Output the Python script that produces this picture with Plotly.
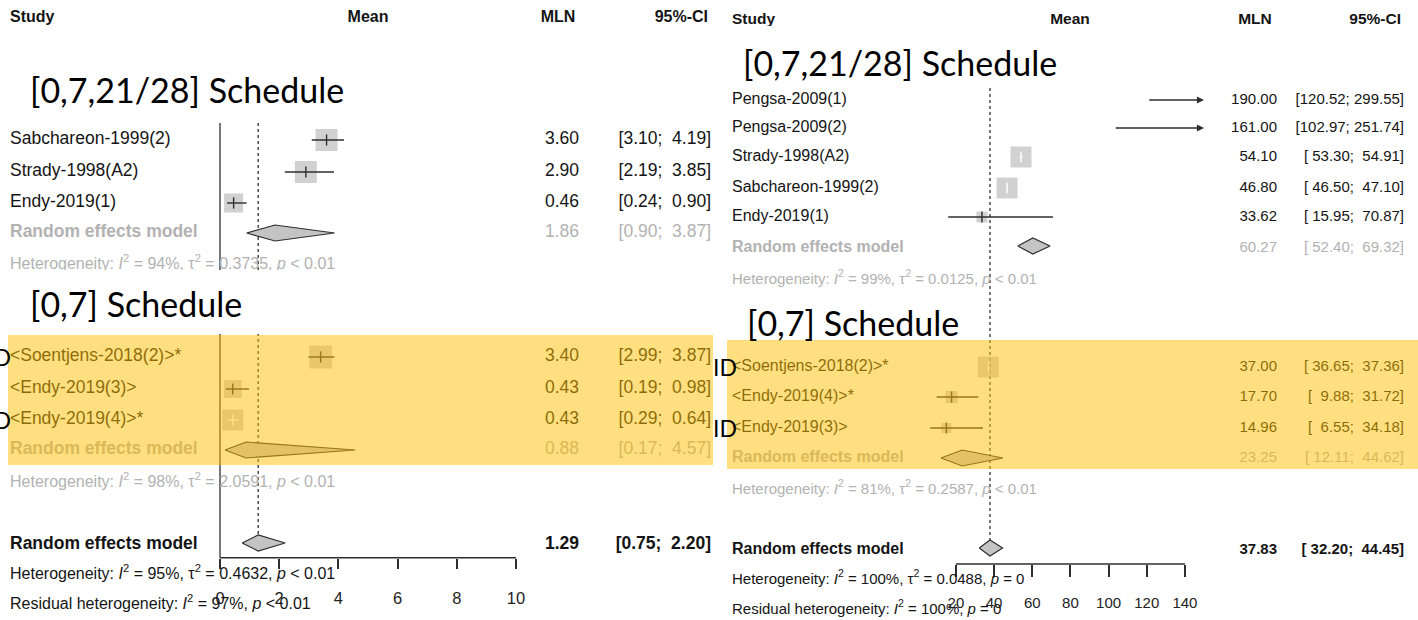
import plotly.graph_objects as go

W, H = 1418, 620

# ---------------- data ----------------
# Left panel: mean (MLN) by schedule
L_SUB1_STUDY = ["Sabchareon-1999(2)", "Strady-1998(A2)", "Endy-2019(1)"]
L_SUB1_MEAN = [3.60, 2.90, 0.46]
L_SUB1_LO = [3.10, 2.19, 0.24]
L_SUB1_HI = [4.19, 3.85, 0.90]
L_SUB1_RE = [1.86, 0.90, 3.87]
L_SUB1_HET = ["94%", "0.3735", "< 0.01"]

L_SUB2_STUDY = ["<Soentjens-2018(2)>*", "<Endy-2019(3)>", "<Endy-2019(4)>*"]
L_SUB2_MEAN = [3.40, 0.43, 0.43]
L_SUB2_LO = [2.99, 0.19, 0.29]
L_SUB2_HI = [3.87, 0.98, 0.64]
L_SUB2_RE = [0.88, 0.17, 4.57]
L_SUB2_HET = ["98%", "2.0591", "< 0.01"]

L_ALL_RE = [1.29, 0.75, 2.20]
L_ALL_HET = ["95%", "0.4632", "< 0.01"]
L_RESID = ["97%", "< 0.01"]
L_TICKS = [0, 2, 4, 6, 8, 10]

# Right panel: mean (MLN) by schedule
R_SUB1_STUDY = ["Pengsa-2009(1)", "Pengsa-2009(2)", "Strady-1998(A2)",
                "Sabchareon-1999(2)", "Endy-2019(1)"]
R_SUB1_MEAN = [190.00, 161.00, 54.10, 46.80, 33.62]
R_SUB1_LO = [120.52, 102.97, 53.30, 46.50, 15.95]
R_SUB1_HI = [299.55, 251.74, 54.91, 47.10, 70.87]
R_SUB1_RE = [60.27, 52.40, 69.32]
R_SUB1_HET = ["99%", "0.0125", "< 0.01"]

R_SUB2_STUDY = ["<Soentjens-2018(2)>*", "<Endy-2019(4)>*", "<Endy-2019(3)>"]
R_SUB2_MEAN = [37.00, 17.70, 14.96]
R_SUB2_LO = [36.65, 9.88, 6.55]
R_SUB2_HI = [37.36, 31.72, 34.18]
R_SUB2_RE = [23.25, 12.11, 44.62]
R_SUB2_HET = ["81%", "0.2587", "< 0.01"]

R_ALL_RE = [37.83, 32.20, 44.45]
R_ALL_HET = ["100%", "0.0488", "= 0"]
R_RESID = ["100%", "= 0"]
R_TICKS = [20, 40, 60, 80, 100, 120, 140]

SCHEDULES = ["[0,7,21/28] Schedule", "[0,7] Schedule"]

# ---------------- styling ----------------
RFONT = "Liberation Sans, Arial, sans-serif"
CFONT = "Lato, Open Sans, sans-serif"
BLACK = "#141414"
GREY_TXT = "#b2b2b2"
SQ = "#bebebe"
LINE = "#2e2e2e"
DIAMOND = "#c4c4c4"

fig = go.Figure()


def esc(s):
    return s.replace("<", "&lt;").replace(">", "&gt;")


def text(x, y, s, size, color=BLACK, pos="middle right", family=RFONT):
    fig.add_trace(go.Scatter(
        x=[x], y=[y], mode="text", text=[s], textposition=pos,
        textfont=dict(family=family, size=size, color=color),
        xaxis="x3", yaxis="y", hoverinfo="skip", showlegend=False, cliponaxis=False))


def het(i2, tau2, p):
    return (f"Heterogeneity: <i>I</i><sup>2</sup> = {i2}, \u03c4<sup>2</sup> = {tau2}, "
            f"<i>p</i> {esc(p)}")


def resid(i2, p):
    return f"Residual heterogeneity: <i>I</i><sup>2</sup> = {i2}, <i>p</i> {esc(p)}"


def fmt_ci(lo, hi, wlo, whi):
    a = f"{lo:.2f}".rjust(wlo).replace(" ", "\u00a0")
    b = f"{hi:.2f}".rjust(whi).replace(" ", "\u00a0")
    return f"[{a};\u00a0{b}]"


# panel geometry: pixel of value 0, pixels per unit, axis range, column positions
PANELS = {
    "L": dict(px0=220.0, ppu=29.6, xr=[-0.3, 10.3], xa="x", ticks=L_TICKS,
              axis_y=557.7, ticklen=10, standoff=15,
              x_study=10, x_eff=579, x_ci=711, x_mean_head=368, x_mln_head=558,
              ci_w=(4, 5), fs=17.5, fs_num=17.5, fs_het=16, fs_head=16, fs_tick=16.5),
    "R": dict(px0=917.8, ppu=1.908, xr=[0, 150], xa="x2", ticks=R_TICKS,
              axis_y=564.0, ticklen=12, standoff=13,
              x_study=732, x_eff=1277, x_ci=1404, x_mean_head=1070, x_mln_head=1255,
              ci_w=(6, 6), fs=16, fs_num=15, fs_het=15, fs_head=15.5, fs_tick=15),
}


def study_rows(P, ys, names, mean, lo, hi, sizes):
    xa = P["xa"]
    xmax = P["xr"][1]
    sq_x, sq_y, sq_s = [], [], []
    for y, n, m, l, h, s in zip(ys, names, mean, lo, hi, sizes):
        text(P["x_study"], y, esc(n), P["fs"])
        text(P["x_eff"], y, f"{m:.2f}", P["fs_num"], pos="middle left")
        text(P["x_ci"], y, fmt_ci(l, h, *P["ci_w"]), P["fs_num"], pos="middle left")
        if m > xmax:
            # estimate beyond the axis: arrow from lower limit to axis edge
            fig.add_annotation(x=xmax, y=y, ax=l, ay=y, xref=xa, yref="y",
                               axref=xa, ayref="y", text="", showarrow=True,
                               arrowhead=2, arrowsize=1.1, arrowwidth=1.3,
                               arrowcolor=LINE)
            continue
        sq_x.append(m)
        sq_y.append(y)
        sq_s.append(s)
    fig.add_trace(go.Scatter(x=sq_x, y=sq_y, mode="markers", xaxis=xa, yaxis="y",
                             marker=dict(symbol="square", size=sq_s, color=SQ,
                                         line=dict(width=0)),
                             hoverinfo="skip", showlegend=False, cliponaxis=False))
    for y, m, l, h, s in zip(ys, mean, lo, hi, sizes):
        if m > xmax:
            continue
        # a confidence interval narrower than its square is drawn in white
        inside = (h - l) * P["ppu"] < s
        c = "white" if inside else LINE
        fig.add_trace(go.Scatter(x=[l, min(h, xmax)], y=[y, y], mode="lines",
                                 xaxis=xa, yaxis="y", line=dict(color=c, width=1.4),
                                 hoverinfo="skip", showlegend=False))
        fig.add_trace(go.Scatter(x=[m], y=[y], mode="markers", xaxis=xa, yaxis="y",
                                 marker=dict(symbol="line-ns", size=8,
                                             line=dict(color=c, width=1.4)),
                                 hoverinfo="skip", showlegend=False, cliponaxis=False))


def diamond(P, y, est, half_h=8):
    m, l, h = est
    fig.add_trace(go.Scatter(x=[l, m, h, m, l], y=[y, y - half_h, y, y + half_h, y],
                             mode="lines", fill="toself", fillcolor=DIAMOND,
                             line=dict(color=LINE, width=1.2), xaxis=P["xa"], yaxis="y",
                             hoverinfo="skip", showlegend=False))


def re_row(P, y, est, color, bold, dy=0):
    m, l, h = est
    eff = f"{m:.2f}"
    ci = fmt_ci(l, h, *P["ci_w"])
    if bold:
        eff, ci = f"<b>{eff}</b>", f"<b>{ci}</b>"
    text(P["x_study"], y, "<b>Random effects model</b>", P["fs"], color=color)
    text(P["x_eff"], y, eff, P["fs_num"], color=color, pos="middle left")
    text(P["x_ci"], y, ci, P["fs_num"], color=color, pos="middle left")
    diamond(P, y + dy, est)


def headers(P, y):
    f = P["fs_head"]
    text(P["x_study"], y, "<b>Study</b>", f)
    text(P["x_mean_head"], y, "<b>Mean</b>", f, pos="middle center")
    text(P["x_mln_head"], y, "<b>MLN</b>", f, pos="middle center")
    text(P["x_ci"] - 3, y, "<b>95%-CI</b>", f, pos="middle left")


def ref_line(P, x, y0, y1, dash):
    fig.add_trace(go.Scatter(x=[x, x], y=[y0, y1], mode="lines", xaxis=P["xa"], yaxis="y",
                             line=dict(color=LINE, width=1.3, dash=dash),
                             hoverinfo="skip", showlegend=False))


# ---------------- left panel ----------------
PL = PANELS["L"]
ref_line(PL, 0, 123, PL["axis_y"], "solid")
ref_line(PL, L_ALL_RE[0], 123, 535, "dot")
headers(PL, 18)
study_rows(PL, [140, 172, 203], L_SUB1_STUDY, L_SUB1_MEAN, L_SUB1_LO, L_SUB1_HI,
           [22, 22, 19])
re_row(PL, 233, L_SUB1_RE, GREY_TXT, False)
text(PL["x_study"], 265, het(*L_SUB1_HET), PL["fs_het"], color=GREY_TXT)
study_rows(PL, [357, 389, 420], L_SUB2_STUDY, L_SUB2_MEAN, L_SUB2_LO, L_SUB2_HI,
           [23, 18, 21])
re_row(PL, 450, L_SUB2_RE, GREY_TXT, False)
text(PL["x_study"], 483, het(*L_SUB2_HET), PL["fs_het"], color=GREY_TXT)
re_row(PL, 545, L_ALL_RE, BLACK, True, dy=-2)
text(PL["x_study"], 575, het(*L_ALL_HET), PL["fs_het"])
text(PL["x_study"], 605, resid(*L_RESID), PL["fs_het"])

# ---------------- right panel ----------------
PR = PANELS["R"]
ref_line(PR, R_ALL_RE[0], 88, 540, "dot")
headers(PR, 20)
study_rows(PR, [100, 128, 157, 188, 217], R_SUB1_STUDY, R_SUB1_MEAN, R_SUB1_LO,
           R_SUB1_HI, [21, 21, 21, 21, 11])
re_row(PR, 248, R_SUB1_RE, GREY_TXT, False, dy=-2)
text(PR["x_study"], 280, het(*R_SUB1_HET), PR["fs_het"], color=GREY_TXT)
study_rows(PR, [367, 397, 428], R_SUB2_STUDY, R_SUB2_MEAN, R_SUB2_LO, R_SUB2_HI,
           [21, 12, 10])
re_row(PR, 458, R_SUB2_RE, GREY_TXT, False)
text(PR["x_study"], 490, het(*R_SUB2_HET), PR["fs_het"], color=GREY_TXT)
re_row(PR, 550, R_ALL_RE, BLACK, True, dy=-2)
text(PR["x_study"], 580, het(*R_ALL_HET), PR["fs_het"])
text(PR["x_study"], 610, resid(*R_RESID), PR["fs_het"])

# axis baselines
shapes = []
for P, t in ((PL, L_TICKS), (PR, R_TICKS)):
    shapes.append(dict(type="line", xref=P["xa"], yref="y", x0=t[0], x1=t[-1],
                       y0=P["axis_y"], y1=P["axis_y"], line=dict(color=LINE, width=1.5),
                       layer="above"))

# white label boxes and highlighted subgroup bands
shapes += [
    dict(type="rect", xref="x3", yref="y", x0=0, x1=345, y0=270, y1=334,
         fillcolor="white", line=dict(width=0), layer="above"),
    dict(type="rect", xref="x3", yref="y", x0=735, x1=1100, y0=26, y1=86,
         fillcolor="white", line=dict(width=0), layer="above"),
    dict(type="rect", xref="x3", yref="y", x0=8, x1=713, y0=335, y1=465,
         fillcolor="#ffc000", opacity=0.5, line=dict(width=0), layer="above"),
    dict(type="rect", xref="x3", yref="y", x0=727, x1=W, y0=340, y1=469,
         fillcolor="#ffc000", opacity=0.5, line=dict(width=0), layer="above"),
]


def callout(x, y, s, size):
    fig.add_annotation(x=x / W, y=1 - y / H, xref="paper", yref="paper", text=s,
                       showarrow=False, xanchor="left", yanchor="middle",
                       font=dict(family=CFONT, size=size, color="black"))


callout(28, 90, SCHEDULES[0], 34)
callout(28, 303, SCHEDULES[1], 34)
callout(741, 63, SCHEDULES[0], 34)
callout(745, 322, SCHEDULES[1], 34)
for x, y in ((-15, 357), (-15, 420), (711, 367), (711, 428)):
    callout(x, y, "ID", 23)


def dom(P):
    return [(P["px0"] + P["xr"][0] * P["ppu"]) / W, (P["px0"] + P["xr"][1] * P["ppu"]) / W]


def xaxis(P):
    return dict(domain=dom(P), range=P["xr"], anchor="free", position=1 - P["axis_y"] / H,
                showline=False, showgrid=False, zeroline=False, ticks="outside",
                ticklen=P["ticklen"], tickwidth=1.5, tickcolor=LINE, tickvals=P["ticks"],
                ticklabelstandoff=P["standoff"], fixedrange=True,
                tickfont=dict(family=RFONT, size=P["fs_tick"], color="#222222"))


fig.update_layout(
    width=W, height=H, margin=dict(l=0, r=0, t=0, b=0),
    paper_bgcolor="white", plot_bgcolor="rgba(0,0,0,0)",
    xaxis=xaxis(PL), xaxis2=xaxis(PR),
    xaxis3=dict(domain=[0, 1], range=[0, W], visible=False, fixedrange=True),
    yaxis=dict(domain=[0, 1], range=[H, 0], visible=False, fixedrange=True),
    shapes=shapes, showlegend=False,
)

fig.write_html("out.html")
